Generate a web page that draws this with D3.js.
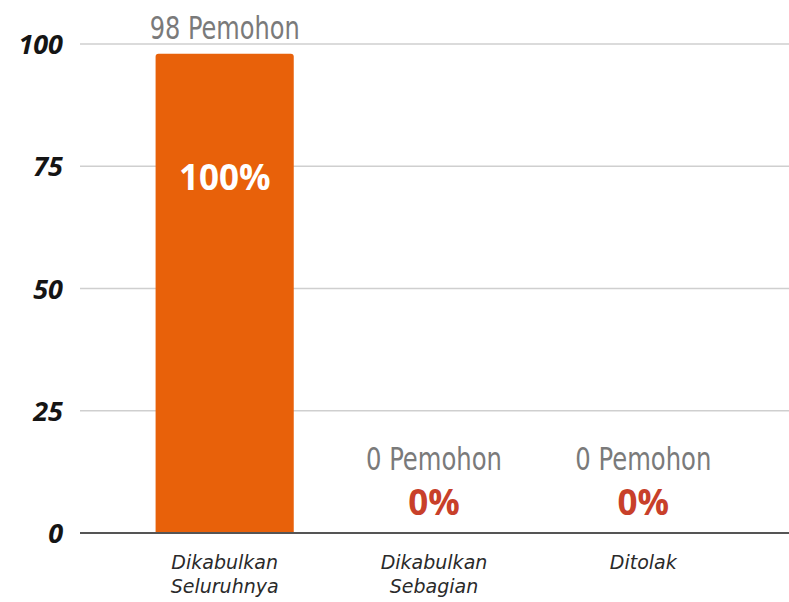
<!DOCTYPE html>
<html>
<head>
<meta charset="utf-8">
<script src="https://cdn.jsdelivr.net/npm/d3@7"></script>
<style>
  body { margin: 0; background: #fff; }
  svg { display: block; }
</style>
</head>
<body>
<div id="chart"></div>
<script>
// Sizes
const WIDTH = 789;
const HEIGHT = 602;

// Data
const categories = [["Dikabulkan", "Seluruhnya"], ["Dikabulkan", "Sebagian"], ["Ditolak"]];
const applicants = [98, 0, 0];
const percents = ["100%", "0%", "0%"];
const yTicks = [0, 25, 50, 75, 100];

var svg = d3
  .select("#chart")
  .append("svg")
  .attr("width", WIDTH)
  .attr("height", HEIGHT);

const x = d3
  .scaleBand()
  .domain(d3.range(categories.length))
  .range([120, 748])
  .paddingInner(0.34)
  .paddingOuter(0.17);

const y = d3.scaleLinear().domain([0, 100]).range([533, 44]);

// Grid lines
svg
  .append("g")
  .selectAll("line")
  .data(yTicks.filter((d) => d > 0))
  .enter()
  .append("line")
  .attr("x1", 80)
  .attr("x2", WIDTH)
  .attr("y1", (d) => y(d))
  .attr("y2", (d) => y(d))
  .attr("stroke", "#cfcfcf")
  .attr("stroke-width", 1.5);

// Y axis labels
const yAxis = d3.axisLeft(y).tickValues(yTicks).tickSize(0).tickPadding(0);
const gy = svg.append("g").attr("transform", "translate(63,0)").call(yAxis);
gy.select(".domain").remove();
gy.selectAll("text")
  .attr("font-family", "'Open Sans', Lato, sans-serif")
  .attr("font-size", 27)
  .attr("font-weight", "bold")
  .attr("font-style", "italic")
  .attr("fill", "#151515")
  .attr("dy", "0.36em");

// Bars
svg
  .append("g")
  .selectAll("path")
  .data(applicants)
  .enter()
  .append("path")
  .attr("fill", "#e8610a")
  .attr("d", (d, i) => {
    const x0 = x(i), w = x.bandwidth(), y0 = y(d), h = y(0) - y(d), r = Math.min(3, h);
    if (h <= 0) return "";
    return `M${x0},${y0 + h}V${y0 + r}Q${x0},${y0} ${x0 + r},${y0}H${x0 + w - r}Q${x0 + w},${y0} ${x0 + w},${y0 + r}V${y0 + h}Z`;
  });

// Baseline
svg
  .append("line")
  .attr("x1", 80)
  .attr("x2", WIDTH)
  .attr("y1", y(0))
  .attr("y2", y(0))
  .attr("stroke", "#555")
  .attr("stroke-width", 2);

// Count labels
svg
  .append("g")
  .selectAll("text")
  .data(applicants)
  .enter()
  .append("text")
  .attr("x", (d, i) => x(i) + x.bandwidth() / 2)
  .attr("y", (d) => (d > 0 ? y(d) - 15 : y(0) - 63))
  .attr("text-anchor", "middle")
  .attr("font-family", "'DejaVu Sans Condensed', 'DejaVu Sans', sans-serif")
  .attr("font-stretch", "condensed")
  .attr("font-size", 32)
  .attr("fill", "#7a7a7a")
  .attr("textLength", (d) => (d > 0 ? 150 : 136))
  .attr("lengthAdjust", "spacingAndGlyphs")
  .text((d) => d + " Pemohon");

// Percent labels
svg
  .append("g")
  .selectAll("text")
  .data(applicants)
  .enter()
  .append("text")
  .attr("x", (d, i) => x(i) + x.bandwidth() / 2)
  .attr("y", (d) => (d > 0 ? y(d) + 136 : y(0) - 18))
  .attr("text-anchor", "middle")
  .attr("font-family", "'Open Sans', Lato, sans-serif")
  .attr("font-weight", "bold")
  .attr("font-size", 35)
  .attr("fill", (d) => (d > 0 ? "#ffffff" : "#c8402a"))
  .text((d, i) => percents[i]);

// Category labels
const cat = svg
  .append("g")
  .selectAll("text")
  .data(categories)
  .enter()
  .append("text")
  .attr("x", (d, i) => x(i) + x.bandwidth() / 2)
  .attr("y", 569)
  .attr("text-anchor", "middle")
  .attr("font-family", "'DejaVu Sans', sans-serif")
  .attr("font-style", "italic")
  .attr("font-size", 19)
  .attr("fill", "#2a2a2a");

cat
  .selectAll("tspan")
  .data((d) => d)
  .enter()
  .append("tspan")
  .attr("x", function () { return this.parentNode.getAttribute("x"); })
  .attr("dy", (d, j) => (j === 0 ? 0 : 24))
  .text((d) => d);
</script>
</body>
</html>
